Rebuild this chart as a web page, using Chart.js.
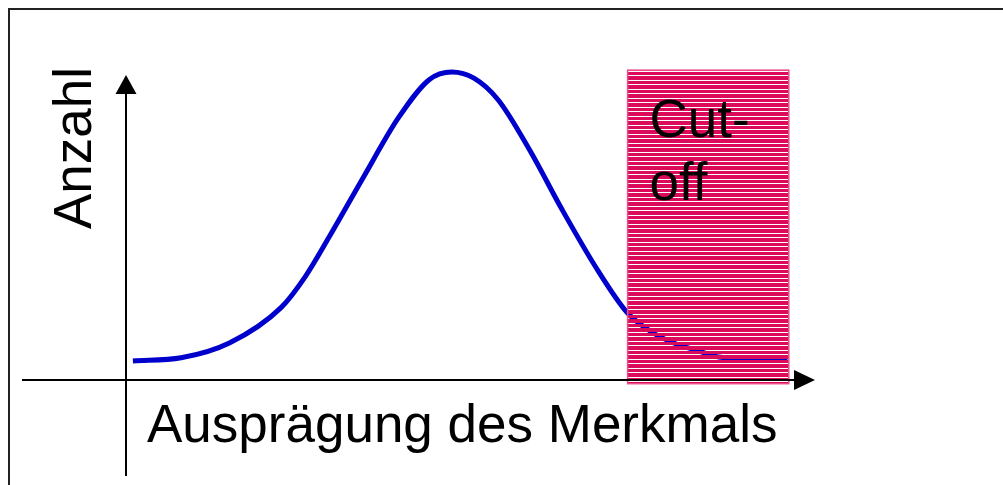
<!DOCTYPE html>
<html>
<head>
<meta charset="utf-8">
<script src="https://cdn.jsdelivr.net/npm/chart.js@4"></script>
<style>
  html, body { margin: 0; padding: 0; background: #fff; }
  #wrap { position: relative; width: 1003px; height: 485px; overflow: hidden; }
  #frame { position: absolute; left: 8px; top: 8px; width: 1100px; height: 600px;
           border-top: 2px solid #222; border-left: 2px solid #222; }
  #chart { position: absolute; left: 0; top: 0; }
</style>
</head>
<body>
<div id="wrap">
  <div id="frame"></div>
  <canvas id="chart" width="1003" height="485"></canvas>
</div>
<script>
// Verteilung eines Merkmals mit Cut-off-Bereich

const auspraegung = [1, 8, 15, 22.5, 26, 29.5, 34.5, 39.5, 44, 47.3, 50.5, 54, 58.5, 63.5, 68.5, 72.7, 76, 79.5, 83, 86, 96];
const anzahl      = [6.2, 7.2, 12, 23.5, 33.5, 46.5, 66, 85, 97.5, 100, 98, 91, 75, 54.5, 35.5, 22, 16, 12, 9.5, 7.5, 6.5];

const cutoffFrom = 72.8;
const cutoffTo = 96.2;
const cutoffTop = 100.6;
const cutoffBottom = -1.2;

const xAxisTitle = "Ausprägung des Merkmals";
const yAxisTitle = "Anzahl";
const cutoffLabel = ["Cut-", "off"];

const FONT = "53px 'Liberation Sans', Arial, sans-serif";

// pink hatch: thin transparent gaps every ~4.5px
function stripePattern(ctx) {
    const c = document.createElement("canvas");
    c.width = 4;
    c.height = 9;
    const g = c.getContext("2d");
    g.fillStyle = "#db0a5b";
    g.fillRect(0, 0, 4, 3);
    g.fillRect(0, 4, 4, 4);
    return ctx.createPattern(c, "repeat");
}

const cutoffPlugin = {
    id: "cutoff",
    afterDatasetsDraw(chart) {
        const { ctx, scales: { x, y } } = chart;
        const left = x.getPixelForValue(cutoffFrom);
        const right = x.getPixelForValue(cutoffTo);
        const top = y.getPixelForValue(cutoffTop);
        const bottom = y.getPixelForValue(cutoffBottom);

        ctx.save();
        ctx.fillStyle = stripePattern(ctx);
        ctx.translate(0, Math.round(top) + 2);
        ctx.fillRect(left, -2, right - left, bottom - top);
        ctx.setTransform(1, 0, 0, 1, 0, 0);
        ctx.strokeStyle = "#e8508a";
        ctx.lineWidth = 1.5;
        ctx.strokeRect(left, top, right - left, bottom - top);

        ctx.fillStyle = "#000";
        ctx.font = FONT;
        ctx.textBaseline = "alphabetic";
        ctx.fillText(cutoffLabel[0], left + 22, top + 67);
        ctx.fillText(cutoffLabel[1], left + 22, top + 130);
        ctx.restore();
    }
};

const axesPlugin = {
    id: "arrows",
    afterDatasetsDraw(chart) {
        const { ctx, scales: { x, y } } = chart;
        const x0 = x.getPixelForValue(0);
        const y0 = y.getPixelForValue(0);
        const xEnd = x.getPixelForValue(100);
        const yEnd = y.getPixelForValue(99);

        ctx.save();
        ctx.strokeStyle = "#000";
        ctx.fillStyle = "#000";
        ctx.lineWidth = 2;

        // x axis
        ctx.beginPath();
        ctx.moveTo(22, y0);
        ctx.lineTo(xEnd - 15, y0);
        ctx.stroke();
        ctx.beginPath();
        ctx.moveTo(xEnd, y0);
        ctx.lineTo(xEnd - 21, y0 - 10);
        ctx.lineTo(xEnd - 21, y0 + 10);
        ctx.closePath();
        ctx.fill();

        // y axis
        ctx.beginPath();
        ctx.moveTo(x0, 476);
        ctx.lineTo(x0, yEnd + 15);
        ctx.stroke();
        ctx.beginPath();
        ctx.moveTo(x0, yEnd);
        ctx.lineTo(x0 - 10.5, yEnd + 19);
        ctx.lineTo(x0 + 10.5, yEnd + 19);
        ctx.closePath();
        ctx.fill();

        // titles
        ctx.font = FONT;
        ctx.textBaseline = "alphabetic";
        ctx.fillText(xAxisTitle, 147, 442);
        ctx.translate(91, 229);
        ctx.rotate(-Math.PI / 2);
        ctx.fillText(yAxisTitle, 0, 0);
        ctx.restore();
    }
};

// order: curve, then cut-off box, then axes on top
new Chart(document.getElementById("chart"), {
    type: "line",
    data: {
        labels: auspraegung,
        datasets: [{
            data: auspraegung.map((v, i) => ({ x: v, y: anzahl[i] })),
            borderColor: "#0000cc",
            borderWidth: 5,
            pointRadius: 0,
            fill: false,
            cubicInterpolationMode: "monotone"
        }]
    },
    options: {
        responsive: false,
        animation: false,
        layout: { padding: 0 },
        plugins: { legend: { display: false }, tooltip: { enabled: false } },
        scales: {
            x: { type: "linear", display: false, min: -126 / 6.89, max: 877 / 6.89 },
            y: { type: "linear", display: false, min: -105 / 3.08, max: 380 / 3.08 }
        }
    },
    plugins: [cutoffPlugin, axesPlugin]
});
</script>
</body>
</html>
